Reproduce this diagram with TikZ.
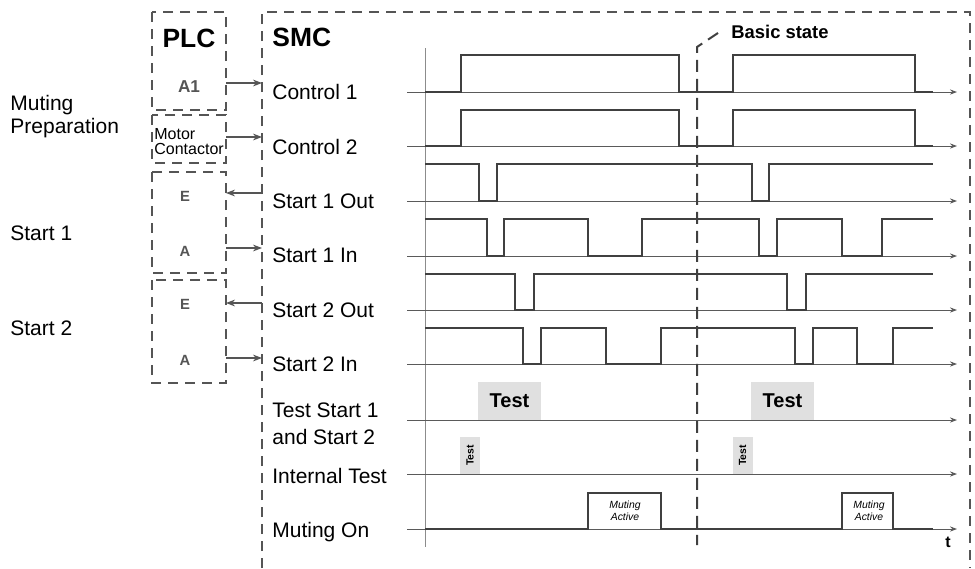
\documentclass[tikz,border=0pt]{standalone}
\usepackage{fontspec}
\setmainfont{Liberation Sans}
\usetikzlibrary{arrows.meta, positioning}
\definecolor{framegray}{RGB}{85, 85, 85}
\definecolor{tracegray}{RGB}{64, 64, 64}
\definecolor{basegray}{RGB}{90, 90, 90}
\definecolor{axisgray}{RGB}{140, 140, 140}
\definecolor{testfill}{RGB}{224, 224, 224}

\begin{document}
\begin{tikzpicture}[
        x=0.5pt, y=-0.5pt,
        frame/.style={draw=framegray, line width=0.75pt, dash pattern=on 5pt off 3.5pt},
        statedash/.style={draw=tracegray, line width=1pt, dash pattern=on 6pt off 3.5pt},
        lbl/.style={anchor=base west, inner sep=0pt, font=\fontsize{10.5}{11.5}\selectfont},
        twoline/.style={anchor=north west, inner sep=0pt, align=left},
        ioname/.style={anchor=base, inner sep=0pt, text=framegray,
                       font=\bfseries\fontsize{7.4}{8}\selectfont},
        baseline/.style={draw=basegray, line width=0.5pt, -{Stealth[length=3.5pt, width=2.6pt]}},
        trace/.style={draw=tracegray, line width=1pt},
        link/.style={draw=framegray, line width=0.6pt, -{Stealth[length=4.5pt, width=3.4pt]}},
        testbox/.style={fill=testfill, inner sep=0pt, minimum width=31.5pt, minimum height=19pt,
                        font=\bfseries\fontsize{10}{12}\selectfont},
        smalltest/.style={fill=testfill, inner sep=0pt, rotate=90, minimum width=18.5pt,
                          minimum height=10pt, font=\bfseries\fontsize{5.2}{6}\selectfont},
        mutetext/.style={align=center, inner sep=0pt, font=\itshape\fontsize{5.2}{6}\selectfont}
    ]
        \useasboundingbox (0,0) rectangle (975,568);

        % PLC side
        \draw[frame] (152,12) rectangle (226,110);
        \draw[frame] (152,115) rectangle (226,163);
        \draw[frame] (152,172) rectangle (226,273);
        \draw[frame] (152,280) rectangle (226,383);
        \node[anchor=base, inner sep=0pt, font=\bfseries\fontsize{13.2}{15}\selectfont] (plc) at (189,47) {PLC};
        \node[ioname, font=\bfseries\fontsize{8.6}{9}\selectfont] (a1) at (189,92) {A1};
        \node[twoline, font=\fontsize{8}{7.5}\selectfont] (motor) at (154,128) {Motor\\Contactor};
        \node[ioname] (e1) at (185,201) {E};
        \node[ioname] (a2) at (185,256) {A};
        \node[ioname] (e2) at (185,309) {E};
        \node[ioname] (a3) at (185,365) {A};

        % left row names
        \node[twoline, font=\fontsize{10.5}{11.5}\selectfont] (muteprep) at (10,95) {Muting\\Preparation};
        \node[lbl] (start1) at (10,240) {Start 1};
        \node[lbl] (start2) at (10,335) {Start 2};

        % SMC side
        \draw[frame] (262,568) -- (262,12) -- (970,12) -- (970,568);
        \node[anchor=base west, inner sep=0pt, font=\bfseries\fontsize{13.2}{15}\selectfont] (smc) at (272,46) {SMC};
        \node[lbl] (ctl1) at (272,99) {Control 1};
        \node[lbl] (ctl2) at (272,154) {Control 2};
        \node[lbl] (s1out) at (272,208) {Start 1 Out};
        \node[lbl] (s1in) at (272,262) {Start 1 In};
        \node[lbl] (s2out) at (272,317) {Start 2 Out};
        \node[lbl] (s2in) at (272,371) {Start 2 In};
        \node[twoline, font=\fontsize{10.5}{13.5}\selectfont] (teststart) at (272,402) {Test Start 1\\and Start 2};
        \node[lbl] (inttest) at (272,483) {Internal Test};
        \node[lbl] (muteon) at (272,537) {Muting On};

        % links PLC <-> SMC
        \foreach \y/\nm in {83/c1, 137/c2, 193/s1o, 248/s1i, 303/s2o, 358/s2i} {
            \coordinate (plc\nm) at (226,\y);
            \coordinate (smc\nm) at (262,\y);
        }
        \draw[link] (plcc1) -- (smcc1);
        \draw[link] (plcc2) -- (smcc2);
        \draw[link] (smcs1o) -- (plcs1o);
        \draw[link] (plcs1i) -- (smcs1i);
        \draw[link] (smcs2o) -- (plcs2o);
        \draw[link] (plcs2i) -- (smcs2i);

        % time axes
        \draw[axisgray, line width=0.5pt] (425,48) -- (425,547);
        \foreach \y in {92,146,201,256,310,364,420,474,529}
            \draw[baseline] (407,\y) -- (957,\y);
        \node[inner sep=0pt, anchor=base, font=\bfseries\fontsize{8}{9}\selectfont] (t) at (948,547) {t};

        % signal traces
        \draw[trace] (425,92) -- (461,92) -- (461,55) -- (679,55) -- (679,92) -- (733,92)
            -- (733,55) -- (915,55) -- (915,92) -- (933,92);
        \draw[trace] (425,146) -- (461,146) -- (461,110) -- (679,110) -- (679,146) -- (733,146)
            -- (733,110) -- (915,110) -- (915,146) -- (933,146);
        \draw[trace] (425,164) -- (479,164) -- (479,201) -- (497,201) -- (497,164) -- (752,164)
            -- (752,201) -- (769,201) -- (769,164) -- (933,164);
        \draw[trace] (425,219) -- (487,219) -- (487,256) -- (504,256) -- (504,219) -- (588,219)
            -- (588,256) -- (642,256) -- (642,219) -- (759,219) -- (759,256) -- (777,256)
            -- (777,219) -- (842,219) -- (842,256) -- (882,256) -- (882,219) -- (933,219);
        \draw[trace] (425,274) -- (515,274) -- (515,310) -- (534,310) -- (534,274) -- (787,274)
            -- (787,310) -- (806,310) -- (806,274) -- (933,274);
        \draw[trace] (425,328) -- (523,328) -- (523,364) -- (541,364) -- (541,328) -- (606,328)
            -- (606,364) -- (661,364) -- (661,328) -- (795,328) -- (795,364) -- (813,364)
            -- (813,328) -- (857,328) -- (857,364) -- (893,364) -- (893,328) -- (933,328);
        \draw[trace] (425,529) -- (588,529) -- (588,493) -- (661,493) -- (661,529) -- (842,529)
            -- (842,493) -- (893,493) -- (893,529) -- (933,529);

        % test marks
        \node[testbox] (test1) at (509.5,401) {Test};
        \node[testbox] (test2) at (782.5,401) {Test};
        \node[smalltest] (itest1) at (470,455.5) {Test};
        \node[smalltest] (itest2) at (742.5,455.5) {Test};
        \node[mutetext] (mute1) at (625,511) {Muting\\Active};
        \node[mutetext] (mute2) at (869,511) {Muting\\Active};

        % basic state marker
        \draw[statedash] (718,33) -- (697,47) -- (697,545);
        \node[anchor=base west, inner sep=0pt, font=\bfseries\fontsize{9.2}{11}\selectfont] (basic) at (731,38) {Basic state};
    \end{tikzpicture}
\end{document}
